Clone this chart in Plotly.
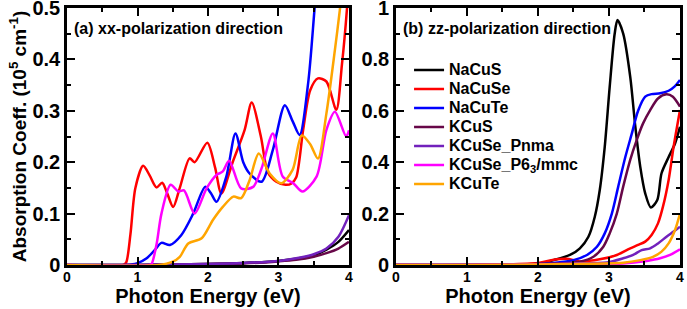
import plotly.graph_objects as go

# ---------------- data ----------------
names = ["NaCuS", "NaCuSe", "NaCuTe", "KCuS", "KCuSe_Pnma", "KCuSe_P6<sub>3</sub>/mmc", "KCuTe"]
colors = ["#000000", "#ff0000", "#0000ff", "#670748", "#7221bc", "#ff00ff", "#ffa500"]

x_ticks = [0, 1, 2, 3, 4]

# (a) xx-polarization
xx_E = [
    [0, 1.0, 1.5, 2.0, 2.5, 3.0, 3.25, 3.5, 3.68, 3.85, 4.0],
    [0, 0.8, 0.84, 0.9, 0.97, 1.08, 1.17, 1.27, 1.35, 1.42, 1.506, 1.6, 1.74, 1.81, 1.99, 2.1, 2.19,
     2.35, 2.52, 2.62, 2.75, 2.85, 2.97, 3.1, 3.18, 3.25, 3.35, 3.45, 3.56, 3.68, 3.82, 3.9, 3.97, 4.0],
    [0, 0.85, 0.99, 1.13, 1.25, 1.34, 1.46, 1.62, 1.79, 1.96, 2.04, 2.12, 2.26, 2.39, 2.5, 2.59, 2.76,
     2.92, 3.09, 3.2, 3.3, 3.42, 3.51, 3.6],
    [0, 1.0, 1.5, 2.0, 2.5, 3.0, 3.25, 3.5, 3.68, 3.85, 4.0],
    [0, 1.0, 1.5, 2.0, 2.5, 3.0, 3.25, 3.5, 3.68, 3.85, 4.0],
    [0, 1.17, 1.2, 1.27, 1.34, 1.47, 1.58, 1.66, 1.81, 1.98, 2.12, 2.21, 2.3, 2.47, 2.64, 2.76, 2.92,
     3.06, 3.21, 3.34, 3.54, 3.68, 3.8, 3.96, 4.0],
    [0, 1.3, 1.5, 1.6, 1.72, 1.91, 2.07, 2.21, 2.36, 2.47, 2.59, 2.72, 2.875, 3.04, 3.2, 3.33, 3.45,
     3.56, 3.68, 3.8, 3.87, 3.95],
]
xx_val = [
    [0, 0.0, 0.001, 0.002, 0.004, 0.008, 0.012, 0.019, 0.03, 0.045, 0.068],
    [0, 0, 0.005, 0.06, 0.15, 0.193, 0.175, 0.151, 0.160, 0.14, 0.113, 0.15, 0.2075, 0.2, 0.238, 0.19,
     0.139, 0.2, 0.263, 0.316, 0.25, 0.18, 0.162, 0.156, 0.158, 0.17, 0.263, 0.34, 0.363, 0.357, 0.302,
     0.39, 0.496, 0.56],
    [0, 0, 0.003, 0.013, 0.03, 0.043, 0.039, 0.058, 0.1, 0.152, 0.14, 0.123, 0.172, 0.256, 0.2, 0.178,
     0.162, 0.224, 0.311, 0.28, 0.253, 0.353, 0.496, 0.65],
    [0, 0, 0.001, 0.002, 0.003, 0.007, 0.01, 0.016, 0.023, 0.032, 0.045],
    [0, 0, 0.001, 0.002, 0.004, 0.008, 0.013, 0.021, 0.032, 0.055, 0.097],
    [0, 0, 0.002, 0.04, 0.1, 0.156, 0.143, 0.145, 0.1, 0.149, 0.175, 0.182, 0.203, 0.149, 0.152, 0.188,
     0.256, 0.172, 0.159, 0.143, 0.172, 0.263, 0.298, 0.25, 0.262],
    [0, 0, 0.0065, 0.016, 0.042, 0.052, 0.0875, 0.113, 0.133, 0.13, 0.165, 0.217, 0.178, 0.159, 0.185,
     0.252, 0.235, 0.207, 0.295, 0.418, 0.496, 0.6],
]

# (b) zz-polarization
zz_E = [
    [0, 1.0, 1.5, 2.03, 2.22, 2.45, 2.59, 2.71, 2.8, 2.87, 2.94, 3.01, 3.08, 3.12, 3.2, 3.3, 3.37, 3.44,
     3.51, 3.59, 3.68, 3.74, 3.84, 3.93, 4.0],
    [0, 1.0, 2.0, 2.22, 2.4, 2.59, 2.87, 3.11, 3.3, 3.41, 3.51, 3.6, 3.69, 3.76, 3.84, 3.91, 4.0],
    [0, 1.0, 2.0, 2.5, 2.69, 2.83, 2.94, 3.04, 3.13, 3.23, 3.32, 3.41, 3.51, 3.6, 3.72, 3.84, 3.93, 4.0],
    [0, 1.0, 2.0, 2.59, 2.78, 2.92, 3.01, 3.11, 3.2, 3.3, 3.39, 3.48, 3.58, 3.69, 3.81, 3.9, 4.0],
    [0, 1.0, 2.0, 2.5, 2.97, 3.2, 3.34, 3.46, 3.58, 3.69, 3.81, 3.91, 4.0],
    [0, 1.0, 2.0, 2.5, 3.2, 3.53, 3.72, 3.86, 4.0],
    [0, 1.0, 2.0, 2.5, 3.2, 3.44, 3.62, 3.74, 3.84, 3.93, 4.0],
]
zz_val = [
    [0, 0, 0.001, 0.006, 0.019, 0.039, 0.065, 0.11, 0.188, 0.292, 0.46, 0.694, 0.9, 0.953, 0.9, 0.73,
     0.54, 0.383, 0.279, 0.224, 0.253, 0.357, 0.42, 0.473, 0.538],
    [0, 0, 0.008, 0.02, 0.024, 0.014, 0.022, 0.039, 0.065, 0.078, 0.091, 0.117, 0.162, 0.227, 0.331,
     0.46, 0.603],
    [0, 0, 0.004, 0.019, 0.039, 0.071, 0.123, 0.2, 0.305, 0.42, 0.51, 0.6, 0.655, 0.665, 0.668, 0.678,
     0.696, 0.72],
    [0, 0, 0.004, 0.013, 0.032, 0.071, 0.123, 0.2, 0.305, 0.41, 0.486, 0.551, 0.603, 0.648, 0.664,
     0.655, 0.616],
    [0, 0, 0.003, 0.006, 0.01, 0.026, 0.039, 0.058, 0.065, 0.084, 0.11, 0.13, 0.149],
    [0, 0, 0.002, 0.004, 0.006, 0.016, 0.026, 0.039, 0.061],
    [0, 0, 0.002, 0.004, 0.009, 0.019, 0.032, 0.052, 0.084, 0.136, 0.2],
]

# ---------------- figure ----------------
FONT = "Liberation Sans, Arial, Helvetica, sans-serif"
fig = go.Figure()

for i in range(len(names)):
    fig.add_trace(go.Scatter(
        x=xx_E[i], y=xx_val[i], mode="lines", name=names[i], legendgroup=names[i],
        showlegend=False, line=dict(color=colors[i], width=2.5, shape="spline", smoothing=0.8),
        xaxis="x", yaxis="y"))
for i in range(len(names)):
    fig.add_trace(go.Scatter(
        x=zz_E[i], y=zz_val[i], mode="lines",
        name='<span style="font-size:16px">' + names[i] + '</span>', legendgroup=names[i],
        showlegend=True, line=dict(color=colors[i], width=2.5, shape="spline", smoothing=0.8),
        xaxis="x2", yaxis="y2"))

def xaxis(domain, anchor):
    return dict(
        domain=domain, anchor=anchor, range=[0, 4], tickvals=x_ticks, automargin=False,
        showline=True, linecolor="black", linewidth=2.5, mirror="ticks",
        ticks="inside", ticklen=8, tickwidth=2, tickcolor="black",
        minor=dict(ticks="inside", dtick=0.5, ticklen=4, tickwidth=1.5, tickcolor="black"),
        showgrid=False, zeroline=False, ticklabelstandoff=-3, ticklabeloverflow="allow",
        tickfont=dict(family=FONT, size=14, color="black", weight="bold"),
        title=dict(text="Photon Energy (eV)", font=dict(family=FONT, size=20, color="black", weight="bold"),
                   standoff=0),
    )

def yaxis(anchor, rng, dtick, mdtick, title=None):
    d = dict(
        domain=[0, 1], anchor=anchor, range=rng, dtick=dtick, automargin=False,
        showline=True, linecolor="black", linewidth=2.5, mirror="ticks",
        ticks="inside", ticklen=8, tickwidth=2, tickcolor="black",
        minor=dict(ticks="inside", dtick=mdtick, ticklen=4, tickwidth=1.5, tickcolor="black"),
        showgrid=False, zeroline=False, ticklabeloverflow="allow",
        tickfont=dict(family=FONT, size=20, color="black", weight="bold"),
    )
    if title:
        d["title"] = dict(text=title, font=dict(family=FONT, size=19, color="black", weight="bold"),
                          standoff=1)
    return d

fig.update_layout(
    width=687, height=309,
    margin=dict(l=67, r=7, t=8, b=44),
    paper_bgcolor="white", plot_bgcolor="white",
    font=dict(family=FONT, color="black", weight="bold"),
    xaxis=xaxis([0, 0.46], "y"),
    yaxis=yaxis("x", [0, 0.5], 0.1, 0.05, "Absorption Coeff. (10<sup>5</sup> cm<sup>-1</sup>)"),
    xaxis2=xaxis([0.5367, 1], "y2"),
    yaxis2=yaxis("x2", [0, 1], 0.2, 0.1),
    legend=dict(x=0.558, y=0.815, xanchor="left", yanchor="top", bgcolor="rgba(0,0,0,0)",
                borderwidth=0, font=dict(family=FONT, size=12, color="black", weight="bold"),
                tracegroupgap=0),
    showlegend=True,
    annotations=[
        dict(text="(a) xx-polarization direction", xref="x domain", yref="y domain", x=0.018, y=0.92,
             xanchor="left", yanchor="middle", showarrow=False,
             font=dict(family=FONT, size=16, color="black", weight="bold")),
        dict(text="(b) zz-polarization direction", xref="x2 domain", yref="y2 domain", x=0.018, y=0.92,
             xanchor="left", yanchor="middle", showarrow=False,
             font=dict(family=FONT, size=16, color="black", weight="bold")),
    ],
)

fig.write_html("out.html", config={"displayModeBar": False},
               post_script="document.body.style.margin='0';")
